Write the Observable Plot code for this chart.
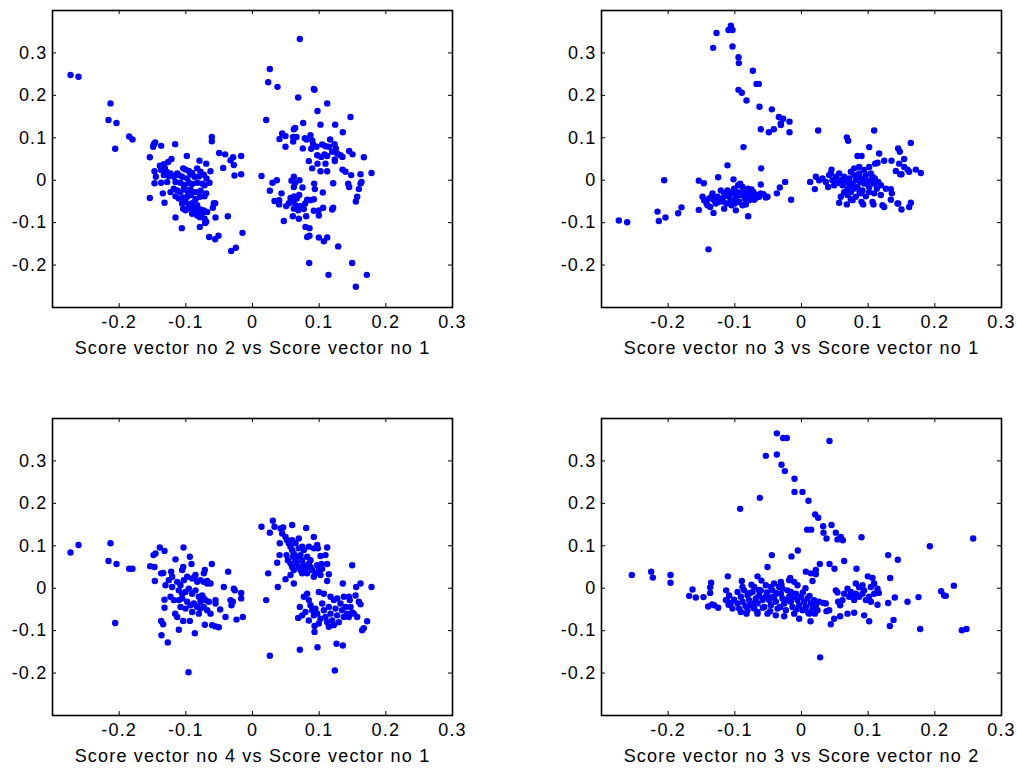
<!DOCTYPE html>
<html>
<head>
<meta charset="utf-8">
<script src="https://cdn.jsdelivr.net/npm/d3@7"></script>
<script src="https://cdn.jsdelivr.net/npm/@observablehq/plot@0.6"></script>
<style>
  html, body { margin: 0; padding: 0; background: #fff; }
  #wrap { position: relative; width: 1017px; height: 768px; background: #fff; overflow: hidden; }
  .panel { position: absolute; }
  .panel svg { overflow: visible; }
  .panel svg text { letter-spacing: 1.2px; }
</style>
</head>
<body>
<div id="wrap"></div>
<script>
// ---- data ----
const xTicks = [-0.2, -0.1, 0, 0.1, 0.2, 0.3];
const xTickLabels = ["-0.2", "-0.1", "0", "0.1", "0.2", "0.3"];
const yTicks = [-0.2, -0.1, 0, 0.1, 0.2, 0.3];
const yTickLabels = ["-0.2", "-0.1", "0", "0.1", "0.2", "0.3"];
const titles = [
  "Score vector no 2 vs Score vector no 1",
  "Score vector no 3 vs Score vector no 1",
  "Score vector no 4 vs Score vector no 1",
  "Score vector no 3 vs Score vector no 2"
];

// Score 2 vs Score 1
const s2vs1 = [
[-0.273,0.248],[-0.261,0.244],[-0.213,0.181],[-0.216,0.142],[-0.204,0.135],[-0.206,0.074],[-0.185,0.103],[-0.180,0.096],
[-0.154,0.054],[-0.154,-0.042],[-0.148,0.085],[-0.146,0.089],[-0.149,0.079],[-0.137,0.081],[-0.116,0.085],[-0.147,0.021],
[-0.145,0.008],[-0.147,-0.007],[-0.106,-0.113],[-0.061,0.102],[-0.061,0.092],[-0.050,0.064],[-0.041,0.061],[-0.044,0.029],
[-0.033,0.047],[-0.029,0.054],[-0.017,0.057],[-0.028,0.036],[-0.027,0.011],[-0.017,0.014],[-0.056,-0.054],[-0.065,-0.134],
[-0.056,-0.139],[-0.051,-0.131],[-0.037,-0.085],[-0.032,-0.167],[-0.025,-0.159],[-0.015,-0.124],[-0.079,-0.110],[-0.071,-0.101],
[-0.1265,0.043],[-0.1215,0.050],[-0.133,0.038],[-0.139,0.034],[-0.0985,0.057],[-0.0795,0.046],[-0.0695,0.039],[-0.1315,0.029],
[-0.137,0.024],[-0.129,0.020],[-0.123,0.016],[-0.113,0.016],[-0.104,0.028],[-0.1005,0.025],[-0.0955,0.022],[-0.0905,0.017],
[-0.083,0.028],[-0.078,0.020],[-0.063,0.021],[-0.133,0.012],[-0.1255,0.010],[-0.118,0.008],[-0.1105,0.012],[-0.1055,0.008],
[-0.098,0.004],[-0.093,0.014],[-0.087,0.008],[-0.0805,0.009],[-0.073,0.013],[-0.069,0.004],[-0.0645,-0.006],[-0.137,-0.006],
[-0.128,-0.004],[-0.1155,-0.004],[-0.108,-0.006],[-0.102,-0.012],[-0.0955,-0.006],[-0.0905,-0.009],[-0.083,-0.006],[-0.0755,-0.008],
[-0.072,-0.012],[-0.118,-0.020],[-0.113,-0.024],[-0.108,-0.028],[-0.103,-0.020],[-0.098,-0.025],[-0.093,-0.022],[-0.0855,-0.028],
[-0.078,-0.025],[-0.0695,-0.031],[-0.1345,-0.031],[-0.123,-0.028],[-0.1155,-0.038],[-0.1105,-0.043],[-0.104,-0.041],[-0.098,-0.039],
[-0.092,-0.035],[-0.0855,-0.045],[-0.079,-0.039],[-0.072,-0.038],[-0.1055,-0.055],[-0.1005,-0.051],[-0.0955,-0.057],[-0.0905,-0.054],
[-0.083,-0.059],[-0.058,-0.054],[-0.132,-0.053],[-0.1005,-0.071],[-0.0955,-0.067],[-0.089,-0.065],[-0.083,-0.072],[-0.078,-0.069],
[-0.073,-0.071],[-0.068,-0.075],[-0.0595,-0.065],[-0.104,-0.067],[-0.0905,-0.079],[-0.083,-0.083],[-0.079,-0.087],[-0.076,-0.079],
[-0.072,-0.091],[-0.0695,-0.098],[-0.1155,-0.088],[-0.0555,-0.088],
[0.071,0.333],[0.026,0.262],[0.0235,0.231],[0.0375,0.220],[0.0685,0.195],[0.092,0.215],[0.093,0.213],[0.0975,0.163],
[0.112,0.181],[0.0205,0.142],[0.076,0.135],[0.102,0.131],[0.124,0.131],[0.147,0.149],[0.1355,0.113],[0.1165,0.096],
[0.0405,0.097],[0.0445,0.110],[0.0495,0.104],[0.062,0.12],[0.064,0.123],[0.061,0.102],[0.066,0.102],[0.061,0.091],
[0.0785,0.099],[0.081,0.096],[0.087,0.106],[0.0495,0.079],[0.0755,0.075],[0.0895,0.094],[0.091,0.085],[0.088,0.074],
[0.096,0.079],[0.1045,0.084],[0.1095,0.080],[0.1145,0.079],[0.123,0.085],[0.125,0.075],[0.097,0.059],[0.103,0.055],
[0.108,0.061],[0.112,0.057],[0.1195,0.067],[0.127,0.063],[0.1235,0.049],[0.1235,0.045],[0.132,0.059],[0.135,0.055],
[0.145,0.069],[0.15,0.061],[0.167,0.054],[0.0845,0.045],[0.0975,0.039],[0.1095,0.039],[0.0895,0.028],[0.102,0.021],
[0.112,0.021],[0.135,0.025],[0.1395,0.020],[0.148,0.012],[0.162,0.014],[0.1785,0.017],[0.0135,0.010],[0.121,-0.007],
[0.1435,-0.008],[0.145,-0.016],[0.1635,-0.004],[0.162,-0.008],[0.1595,-0.021],[0.157,-0.039],[0.155,-0.050],[0.1055,-0.029],
[0.0925,-0.008],[0.0935,-0.021],[0.03,-0.006],[0.0365,0],[0.026,-0.025],[0.0435,-0.031],[0.033,-0.049],[0.040,-0.047],
[0.040,-0.057],[0.0505,-0.061],[0.0545,-0.054],[0.061,-0.049],[0.0665,-0.043],[0.057,-0.042],[0.0625,-0.038],[0.070,-0.035],
[0.0585,-0.001],[0.062,0.008],[0.064,-0.006],[0.062,-0.016],[0.0705,0],[0.075,-0.017],[0.062,-0.067],[0.0645,-0.059],
[0.0685,-0.071],[0.072,-0.061],[0.077,-0.068],[0.079,-0.055],[0.082,-0.046],[0.087,-0.047],[0.092,-0.045],[0.0605,-0.085],
[0.0695,-0.091],[0.0805,-0.085],[0.047,-0.096],[0.092,-0.072],[0.0995,-0.071],[0.106,-0.065],[0.0995,-0.083],[0.1195,-0.069],
[0.121,-0.065],[0.0795,-0.110],[0.0855,-0.113],[0.082,-0.134],[0.0855,-0.131],[0.0995,-0.135],[0.107,-0.144],[0.112,-0.135],
[0.1285,-0.156],[0.085,-0.195],[0.1495,-0.195],[0.114,-0.223],[0.1715,-0.223],[0.155,-0.251]
];

// Score 3 vs Score 1
const s3vs1 = [
[-0.106,0.364],[-0.1095,0.354],[-0.1035,0.354],[-0.1275,0.347],[-0.1325,0.312],[-0.1035,0.315],[-0.0945,0.290],[-0.094,0.276],
[-0.073,0.258],[-0.0675,0.227],[-0.064,0.227],[-0.0945,0.213],[-0.0895,0.206],[-0.0825,0.188],[-0.063,0.173],[-0.0445,0.167],
[-0.034,0.149],[-0.0275,0.145],[-0.031,0.134],[-0.031,0.130],[-0.018,0.138],[-0.061,0.120],[-0.049,0.113],[-0.0415,0.120],
[-0.018,0.113],[-0.087,0.078],[-0.111,0.035],[-0.0605,0.028],[-0.125,0.007],[-0.102,0.002],[-0.206,0],[-0.154,-0.001],
[-0.1465,-0.007],[-0.0245,-0.004],[-0.0325,-0.017],[-0.061,-0.010],[-0.037,-0.031],[-0.0155,-0.046],[-0.216,-0.074],[-0.214,-0.096],
[-0.204,-0.088],[-0.185,-0.078],[-0.180,-0.064],[-0.274,-0.095],[-0.2615,-0.099],[-0.154,-0.070],[-0.132,-0.077],[-0.080,-0.085],
[-0.1395,-0.163],
[-0.1485,-0.039],[-0.146,-0.047],[-0.1425,-0.054],[-0.1385,-0.043],[-0.1335,-0.031],[-0.131,-0.047],[-0.126,-0.039],[-0.1235,-0.051],
[-0.1185,-0.043],[-0.116,-0.031],[-0.112,-0.055],[-0.111,-0.024],[-0.1085,-0.039],[-0.106,-0.047],[-0.1035,-0.031],[-0.101,-0.020],
[-0.0985,-0.043],[-0.096,-0.028],[-0.0935,-0.051],[-0.092,-0.008],[-0.091,-0.035],[-0.0885,-0.059],[-0.086,-0.024],[-0.085,-0.043],
[-0.082,-0.031],[-0.080,-0.020],[-0.0785,-0.047],[-0.076,-0.039],[-0.072,-0.028],[-0.071,-0.046],[-0.067,-0.035],[-0.0635,-0.039],
[-0.061,-0.031],[-0.057,-0.033],[-0.0535,-0.041],[-0.051,-0.039],[-0.137,-0.063],[-0.116,-0.067],[-0.0985,-0.071],[-0.121,-0.024],
[-0.1285,-0.055],[-0.105,-0.059],[-0.0835,-0.057],[-0.075,-0.022],[-0.0885,-0.016],[-0.095,-0.012],[-0.141,-0.059],[-0.135,-0.039],
[-0.118,-0.050],[-0.108,-0.030],[-0.095,-0.036],[-0.088,-0.028],[-0.077,-0.033],[-0.069,-0.042],[-0.100,-0.055],[-0.113,-0.036],
[-0.125,-0.045],[-0.083,-0.050],
[0.025,0.117],[0.109,0.117],[0.068,0.101],[0.070,0.093],[0.1015,0.078],[0.164,0.088],[0.1165,0.063],[0.145,0.075],
[0.1475,0.067],[0.084,0.057],[0.090,0.057],[0.124,0.046],[0.135,0.046],[0.154,0.050],[0.1105,0.039],[0.114,0.041],
[0.1015,0.031],[0.1465,0.039],[0.154,0.031],[0.159,0.025],[0.1615,0.020],[0.1715,0.025],[0.179,0.017],[0.1415,0.022],
[0.148,0.014],[0.150,0.014],[0.045,0.025],[0.013,-0.004],[0.020,-0.021],[0.164,-0.053],[0.1615,-0.063],[0.150,-0.069],
[0.134,-0.046],[0.144,-0.055],[0.145,-0.055],[0.1215,-0.059],[0.124,-0.063],[0.1065,-0.051],[0.108,-0.057],[0.090,-0.051],
[0.0925,-0.057],[0.0565,-0.053],[0.068,-0.057],[0.074,-0.045],[0.0765,-0.047],[0.109,-0.031],[0.119,-0.035],[0.134,-0.021],
[0.1265,-0.020],[0.1355,-0.031],
[0.0215,0.008],[0.0265,0],[0.0315,0.004],[0.0365,-0.004],[0.040,-0.016],[0.044,0.016],[0.0465,0],[0.0515,0.008],
[0.054,-0.006],[0.0565,0.016],[0.059,0],[0.0615,-0.012],[0.064,0.008],[0.0665,-0.004],[0.069,-0.020],[0.0715,0.004],
[0.074,0.020],[0.0765,-0.008],[0.079,0.012],[0.0815,0],[0.084,-0.016],[0.0865,0.016],[0.088,-0.004],[0.090,0.004],
[0.0915,-0.024],[0.094,-0.008],[0.0965,0.012],[0.099,-0.004],[0.1015,-0.016],[0.104,0],[0.1065,0.008],[0.109,-0.008],
[0.113,-0.020],[0.115,-0.004],[0.119,-0.012],[0.064,-0.028],[0.069,-0.035],[0.074,-0.028],[0.0815,-0.039],[0.089,-0.031],
[0.0965,-0.038],[0.1015,-0.028],[0.059,-0.039],[0.049,-0.012],[0.0415,0.012],[0.079,0.028],[0.0865,0.031],[0.094,0.024],
[0.104,0.016],[0.072,-0.010],[0.083,0.008],[0.095,0.002],[0.078,-0.020],[0.100,-0.010],[0.087,-0.026],[0.060,-0.006],
[0.110,0.004]
];

// Score 4 vs Score 1
const s4vs1 = [
[-0.273,0.084],[-0.261,0.102],[-0.213,0.106],[-0.216,0.064],[-0.204,0.057],[-0.206,-0.082],[-0.185,0.046],[-0.180,0.046],
[-0.1535,0.052],[-0.147,0.050],[-0.1485,0.078],[-0.1455,0.082],[-0.139,0.096],[-0.132,0.088],[-0.1035,0.096],[-0.1155,0.068],
[-0.094,0.074],[-0.0915,0.057],[-0.1465,0.017],[-0.061,0.057],[-0.0365,0.039],[-0.043,0.003],[-0.028,-0.001],[-0.0265,-0.005],
[-0.017,-0.011],[-0.017,-0.024],[-0.033,-0.028],[-0.0295,-0.032],[-0.0315,-0.040],[-0.0145,-0.068],[-0.024,-0.074],[-0.0405,-0.068],
[-0.0485,-0.050],[-0.0555,-0.028],[-0.0555,-0.036],[-0.0505,-0.092],[-0.0555,-0.090],[-0.0605,-0.087],[-0.0715,-0.086],[-0.0865,-0.106],
[-0.104,-0.077],[-0.1105,-0.098],[-0.094,-0.077],[-0.1365,-0.111],[-0.127,-0.128],[-0.137,-0.077],[-0.134,-0.085],[-0.132,-0.027],
[-0.132,-0.046],[-0.096,-0.198],[-0.134,0.036],[-0.137,0.035],[-0.122,0.039],[-0.116,-0.060],[-0.113,-0.068],
[-0.1305,0.007],[-0.1255,0.019],[-0.1205,0.027],[-0.113,0.015],[-0.108,0.007],[-0.103,0.019],[-0.098,0.027],[-0.0905,0.023],
[-0.0855,0.031],[-0.078,0.019],[-0.073,0.015],[-0.068,0.011],[-0.063,0.011],[-0.1105,-0.005],[-0.1055,-0.013],[-0.1005,-0.009],
[-0.0955,-0.001],[-0.0905,-0.013],[-0.0855,-0.005],[-0.0805,-0.020],[-0.0755,-0.017],[-0.0705,-0.028],[-0.0655,-0.032],[-0.1105,-0.028],
[-0.1055,-0.024],[-0.098,-0.032],[-0.093,-0.040],[-0.088,-0.036],[-0.083,-0.044],[-0.078,-0.048],[-0.073,-0.044],[-0.068,-0.052],
[-0.063,-0.060],[-0.0805,-0.060],[-0.0905,-0.056],[-0.1005,-0.048],[-0.108,-0.044],[-0.123,-0.020],[-0.118,-0.028],[-0.1205,0.003],
[-0.083,0.015],[-0.078,-0.032],[-0.073,-0.024],[-0.104,0.050],[-0.1055,0.043],[-0.0865,0.028],[-0.0715,0.043],[-0.073,0.035],
[-0.068,0.017],
[0.0135,0.145],[0.0305,0.159],[0.026,0.131],[0.033,0.145],[0.042,0.141],[0.046,0.143],[0.0595,0.149],[0.0805,0.142],
[0.041,0.106],[0.0405,0.078],[0.037,0.060],[0.0235,0.035],[0.038,0.003],[0.0495,0.021],[0.062,0.011],[0.092,0.121],
[0.097,0.102],[0.098,0.094],[0.112,0.096],[0.102,0.076],[0.1095,0.078],[0.112,0.057],[0.1035,0.057],[0.1145,0.033],
[0.112,0.017],[0.1495,0.054],[0.1355,0.011],[0.162,0.011],[0.1785,0.003],[0.1555,0.003],[0.0205,-0.028],[0.026,-0.159],
[0.071,-0.145],[0.0975,-0.139],[0.126,-0.131],[0.1355,-0.135],[0.1235,-0.194],[0.093,-0.089],[0.093,-0.103],[0.0685,-0.070],
[0.071,-0.044],[0.167,-0.094],[0.1645,-0.099],[0.172,-0.078],[0.162,-0.038],[0.1545,-0.017],[0.1445,-0.020],[0.146,-0.028],
[0.147,-0.044],[0.1445,-0.068],[0.1495,-0.057],
[0.0445,0.129],[0.0495,0.121],[0.052,0.113],[0.0545,0.106],[0.057,0.098],[0.0595,0.090],[0.062,0.082],[0.061,0.074],
[0.0645,0.066],[0.067,0.058],[0.0695,0.050],[0.072,0.043],[0.0745,0.035],[0.057,0.058],[0.0595,0.050],[0.062,0.043],
[0.067,0.074],[0.072,0.078],[0.0745,0.066],[0.077,0.054],[0.0795,0.046],[0.082,0.035],[0.0845,0.058],[0.087,0.050],
[0.0895,0.043],[0.092,0.027],[0.0945,0.035],[0.082,0.074],[0.087,0.066],[0.097,0.054],[0.0995,0.043],[0.102,0.031],
[0.1045,0.046],[0.0645,0.106],[0.0695,0.094],[0.0745,0.098],[0.051,0.078],[0.053,0.066],[0.057,0.031],[0.0695,0.117],
[0.077,0.090],[0.0595,0.113],[0.0845,0.098],[0.092,0.094],
[0.077,-0.020],[0.082,-0.013],[0.0845,-0.028],[0.087,-0.040],[0.0895,-0.052],[0.092,-0.064],[0.0945,-0.048],[0.097,-0.060],
[0.0995,-0.009],[0.102,-0.072],[0.1045,-0.036],[0.107,-0.052],[0.1095,-0.068],[0.112,-0.080],[0.1145,-0.044],[0.117,-0.060],
[0.1195,-0.076],[0.122,-0.028],[0.1245,-0.048],[0.127,-0.064],[0.1295,-0.080],[0.132,-0.036],[0.1345,-0.052],[0.137,-0.068],
[0.1395,-0.044],[0.142,-0.060],[0.0795,-0.056],[0.0745,-0.064],[0.0845,-0.076],[0.0995,-0.083],[0.1145,-0.091],[0.122,-0.087],
[0.127,-0.024],[0.117,-0.020],[0.107,-0.013],[0.152,-0.060],[0.157,-0.068],[0.1595,-0.032],[0.137,-0.020]
];

// Score 3 vs Score 2
const s3vs2 = [
[-0.037,0.365],[-0.0275,0.354],[-0.022,0.354],[0.042,0.347],[-0.0535,0.312],[-0.037,0.315],[-0.030,0.291],[-0.025,0.276],
[-0.0105,0.258],[-0.0105,0.227],[0.0015,0.227],[-0.0625,0.213],[0.0105,0.206],[-0.092,0.187],[0.0205,0.174],[0.025,0.166],
[0.0085,0.138],[0.0145,0.138],[0.0325,0.146],[0.045,0.149],[0.033,0.131],[0.0515,0.131],[0.0375,0.117],[0.054,0.115],
[0.059,0.121],[0.062,0.113],[0.090,0.120],[0.1925,0.099],[0.2575,0.117],[-0.0445,0.078],[-0.015,0.075],[-0.0055,0.089],
[-0.051,0.050],[0.0275,0.057],[0.042,0.057],[0.0495,0.046],[0.064,0.064],[0.0825,0.046],[0.130,0.078],[0.1445,0.067],
[0.0065,0.039],[0.014,0.035],[0.0215,0.043],[0.0215,0.033],[0.0165,0.017],[0.0995,0.028],[0.1065,0.024],[0.133,0.024],
[-0.2545,0.031],[-0.2255,0.039],[-0.223,0.025],[-0.1965,0.031],[-0.1965,0.013],[-0.1105,0.028],[-0.0895,0.017],[-0.066,0.028],
[-0.1635,-0.003],[-0.1685,-0.018],[-0.1585,-0.022],[-0.147,-0.021],[-0.1355,0.013],[-0.137,0.002],[-0.137,-0.011],[-0.140,-0.043],
[-0.134,-0.038],[-0.131,-0.040],[-0.125,-0.046],[-0.113,-0.005],[-0.112,-0.028],[-0.1095,-0.039],[-0.106,-0.035],[-0.091,-0.056],
[-0.0825,-0.060],[-0.066,-0.056],[0.2285,0.006],[0.2095,-0.007],[0.214,-0.017],[0.2165,-0.018],[0.1755,-0.021],[0.159,-0.032],
[0.140,-0.022],[0.130,-0.035],[0.114,-0.039],[0.138,-0.075],[0.1325,-0.089],[0.178,-0.096],[0.2405,-0.099],[0.2475,-0.096],
[0.1015,-0.078],[0.094,-0.064],[0.079,-0.058],[0.069,-0.060],[0.044,-0.085],[0.049,-0.072],[0.058,-0.066],[0.0135,-0.078],
[-0.0035,-0.072],[0.028,-0.163],[0.010,-0.057],[0.0375,-0.054],[0.0415,-0.052],[0.033,-0.035],[0.0365,-0.036],[0.0515,-0.005],
[0.054,-0.010],[0.055,-0.032],[0.058,-0.040],[0.114,-0.001],[0.116,-0.011],[0.109,0.011],[0.104,0.003],[0.0815,0.011],
[0.0865,0.002],[0.0915,0.007],
[0.069,-0.001],[0.074,-0.009],[0.0765,-0.020],[0.0815,-0.013],[0.0865,-0.020],[0.0915,-0.013],[0.0965,-0.028],[0.1015,-0.020],
[0.109,-0.013],[0.094,-0.005],[0.0715,-0.020],[0.064,-0.013],[0.0615,-0.028],[0.079,-0.028],[0.104,-0.032],
[-0.096,-0.009],[-0.091,-0.020],[-0.0885,-0.032],[-0.086,-0.005],[-0.081,-0.017],[-0.0785,-0.028],[-0.076,-0.040],[-0.0735,-0.009],
[-0.071,0.003],[-0.0685,-0.024],[-0.066,-0.036],[-0.0635,-0.017],[-0.061,-0.005],[-0.0585,-0.028],[-0.056,-0.044],[-0.0535,0.007],
[-0.051,-0.017],[-0.0485,-0.028],[-0.046,-0.040],[-0.0435,-0.005],[-0.041,-0.020],[-0.0385,-0.032],[-0.036,-0.048],[-0.0335,0.003],
[-0.031,-0.013],[-0.0285,-0.024],[-0.026,-0.036],[-0.0235,-0.052],[-0.021,-0.005],[-0.0185,-0.020],[-0.016,-0.032],[-0.0135,-0.044],
[-0.011,-0.060],[-0.0085,-0.013],[-0.006,-0.028],[-0.0035,-0.040],[-0.001,-0.020],[0.0015,-0.052],[0.004,-0.032],[0.0065,-0.044],
[0.009,-0.024],[0.0115,-0.060],[0.014,-0.036],[0.0165,-0.048],[0.019,-0.028],[0.0215,-0.040],[0.024,-0.052],[0.0265,-0.032],
[-0.041,0.011],[-0.031,0.015],[-0.0185,0.019],[-0.011,0.015],[-0.006,0.007],[-0.066,-0.060],[-0.051,-0.060],[-0.0385,-0.064],
[-0.026,-0.066],[-0.046,0.003],[-0.0285,-0.001],[-0.016,-0.009],
[-0.1135,-0.028],[-0.1085,-0.017],[-0.101,-0.027],[-0.096,-0.036],[-0.1035,-0.048],[-0.0935,-0.048],[-0.0885,0.003],[-0.081,-0.052],
[-0.071,-0.048],
[-0.078,-0.012],[-0.064,-0.004],[-0.052,-0.010],[-0.044,-0.022],[-0.037,-0.012],[-0.022,-0.028],[-0.012,-0.020],[0.002,-0.010],
[0.012,-0.018],[-0.058,-0.046],[-0.032,-0.044],[-0.008,-0.050],[-0.070,-0.034],[-0.047,-0.054],[0.020,-0.060],[-0.084,-0.042],
[-0.030,0.008],[-0.055,-0.022],[0.006,0.000],[-0.017,0.024],[-0.060,0.018],[-0.075,0.008]
];

// ---- layout ----
const FRAME_W = 400, FRAME_H = 297;
const ML = 52, MT = 10, MR = 14, MB = 52;
const panels = [
  {data: s2vs1, title: titles[0], left: 0,   top: 0},
  {data: s3vs1, title: titles[1], left: 549, top: 0},
  {data: s4vs1, title: titles[2], left: 0,   top: 408},
  {data: s3vs2, title: titles[3], left: 549, top: 408}
];
const FONT = "'Liberation Sans', Arial, Helvetica, sans-serif";
const FS = 18;
const TICK = 4;

const wrap = document.getElementById("wrap");
for (const p of panels) {
  const chart = Plot.plot({
    width: ML + FRAME_W + MR,
    height: MT + FRAME_H + MB,
    marginLeft: ML, marginTop: MT, marginRight: MR, marginBottom: MB,
    style: {fontFamily: FONT, fontSize: FS + "px", color: "black", background: "white", overflow: "visible"},
    x: {domain: [-0.3, 0.3], axis: null},
    y: {domain: [-0.3, 0.4], axis: null},
    marks: [
      Plot.dot(p.data, {x: d => d[0], y: d => d[1], r: 3.2, fill: "#0000ff", stroke: "none"}),
      Plot.frame({stroke: "black", strokeWidth: 1.6}),
      // inward ticks on all four sides
      Plot.ruleX(xTicks, {x: d => d, insetBottom: FRAME_H - TICK, stroke: "black"}),
      Plot.ruleX(xTicks, {x: d => d, insetTop: FRAME_H - TICK, stroke: "black"}),
      Plot.ruleY(yTicks, {y: d => d, insetRight: FRAME_W - TICK, stroke: "black"}),
      Plot.ruleY(yTicks, {y: d => d, insetLeft: FRAME_W - TICK, stroke: "black"}),
      // tick labels
      Plot.text(xTicks, {x: d => d, frameAnchor: "bottom", dy: 20, text: (d, i) => xTickLabels[i],
        fontSize: FS, fill: "black", textAnchor: "middle"}),
      Plot.text(yTicks, {y: d => d, frameAnchor: "left", dx: -5, text: (d, i) => yTickLabels[i],
        fontSize: FS, fill: "black", textAnchor: "end"}),
      Plot.text([p.title], {text: d => d, frameAnchor: "bottom", dy: 46, fontSize: FS, fill: "black"})
    ]
  });
  const div = document.createElement("div");
  div.className = "panel";
  div.style.left = p.left + "px";
  div.style.top = p.top + "px";
  div.appendChild(chart);
  wrap.appendChild(div);
}
</script>
</body>
</html>
